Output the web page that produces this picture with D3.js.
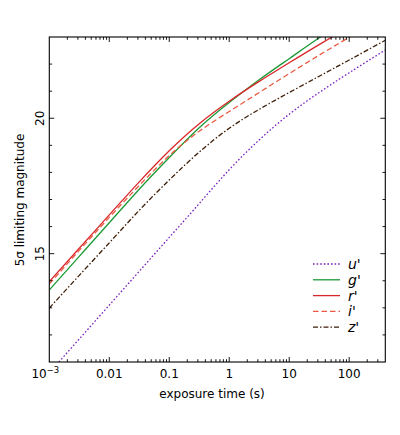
<!DOCTYPE html>
<html>
<head>
<meta charset="utf-8">
<script src="https://cdn.jsdelivr.net/npm/d3@7"></script>
<style>
  html, body { margin: 0; padding: 0; background: #fff; }
  svg { display: block; font-family: "DejaVu Sans", sans-serif; }
</style>
</head>
<body>
<svg id="chart" width="400" height="435"></svg>
<script>
// ---- data ----
const times = [0.001, 0.00316, 0.01, 0.0316, 0.1, 0.316, 1, 3.16, 10, 31.6, 100, 400];
const uMag = [10.6, 11.85, 13.1, 14.35, 15.6, 16.85, 18.1, 19.2, 20.15, 20.95, 21.68, 22.52];
const gMag = [13.66, 14.9, 16.14, 17.38, 18.55, 19.65, 20.58, 21.42, 22.2, 22.97, 23.7, 24.55];
const rMag = [13.97, 15.2, 16.43, 17.65, 18.8, 19.8, 20.63, 21.36, 22.05, 22.72, 23.36, 24.1];
const iMag = [13.88, 15.12, 16.34, 17.52, 18.62, 19.52, 20.25, 20.95, 21.65, 22.33, 22.99, 23.78];
const zMag = [12.99, 14.2, 15.4, 16.6, 17.72, 18.75, 19.63, 20.33, 20.95, 21.55, 22.15, 22.88];

const seriesNames = ["u'", "g'", "r'", "i'", "z'"];
const seriesValues = [uMag, gMag, rMag, iMag, zMag];
const seriesColors = ["#7a22c0", "#1c9a36", "#d9262a", "#e85a40", "#3e1e08"];
const seriesDash = ["1.6,2", null, null, "5.5,3", "5,2,1.5,2"];

const xTickValues = [0.001, 0.01, 0.1, 1, 10, 100];
const xTickLabels = ["10", "0.01", "0.1", "1", "10", "100"];
const xTickSup = ["−3", "", "", "", "", ""];
const yTickValues = [15, 20];
const yTickLabels = ["15", "20"];

// ---- layout ----
const svg = d3.select("#chart");
const L = 49.3, R = 385.3, T = 37, B = 362;

const x = d3.scaleLog().domain([0.001, 400]).range([L, R]);
const y = d3.scaleLinear().domain([11, 23]).range([B, T]);

svg.append("defs").append("clipPath").attr("id", "clip")
  .append("rect").attr("x", L).attr("y", T).attr("width", R - L).attr("height", B - T);

// ---- curves ----
const line = d3.line()
  .x(d => x(d[0]))
  .y(d => y(d[1]))
  .curve(d3.curveNatural);

const g = svg.append("g").attr("clip-path", "url(#clip)");
seriesValues.forEach((vals, i) => {
  const pts = times.map((t, k) => [t, vals[k]]);
  const p = g.append("path")
    .attr("d", line(pts))
    .attr("fill", "none")
    .attr("stroke", seriesColors[i])
    .attr("stroke-width", 1.3);
  if (seriesDash[i]) p.attr("stroke-dasharray", seriesDash[i]);
});

// ---- ticks (inward, all four sides) ----
const xMinor = [];
for (let d = -3; d <= 2; d++) {
  for (let k = 1; k <= 9; k++) {
    const v = k * Math.pow(10, d);
    if (v > 0.001 * 1.0001 && v < 400) xMinor.push({ v, major: k === 1 });
  }
}
const tickG = svg.append("g").attr("stroke", "#000").attr("stroke-width", 0.9);
xMinor.forEach(t => {
  const len = t.major ? 5 : 2.8;
  const px = x(t.v);
  tickG.append("line").attr("x1", px).attr("x2", px).attr("y1", B).attr("y2", B - len);
  tickG.append("line").attr("x1", px).attr("x2", px).attr("y1", T).attr("y2", T + len);
});
d3.range(12, 23).forEach(v => {
  const len = (v % 5 === 0) ? 5 : 2.8;
  const py = y(v);
  tickG.append("line").attr("x1", L).attr("x2", L + len).attr("y1", py).attr("y2", py);
  tickG.append("line").attr("x1", R).attr("x2", R - len).attr("y1", py).attr("y2", py);
});

// frame
svg.append("rect").attr("x", L).attr("y", T).attr("width", R - L).attr("height", B - T)
  .attr("fill", "none").attr("stroke", "#000").attr("stroke-width", 1.1);

// ---- tick labels ----
xTickValues.forEach((v, i) => {
  const t = svg.append("text")
    .attr("x", x(v) + (xTickSup[i] ? -4 : 0))
    .attr("y", 378)
    .attr("text-anchor", "middle")
    .attr("font-size", 12)
    .attr("fill", "#000")
    .text(xTickLabels[i]);
  if (xTickSup[i]) {
    t.append("tspan").attr("dy", -5).attr("font-size", 8.5).text(xTickSup[i]);
  }
});
yTickValues.forEach((v, i) => {
  svg.append("text")
    .attr("transform", `translate(43.5,${y(v)}) rotate(-90)`)
    .attr("text-anchor", "middle")
    .attr("font-size", 12)
    .attr("fill", "#000")
    .text(yTickLabels[i]);
});

// ---- axis titles ----
svg.append("text")
  .attr("x", 212).attr("y", 398)
  .attr("text-anchor", "middle")
  .attr("font-size", 12)
  .text("exposure time (s)");
svg.append("text")
  .attr("transform", "translate(24,200) rotate(-90)")
  .attr("text-anchor", "middle")
  .attr("font-size", 12)
  .text("5σ limiting magnitude");

// ---- legend ----
const lg = svg.append("g");
seriesNames.forEach((name, i) => {
  const yy = 264 + i * 15.8;
  const l = lg.append("line")
    .attr("x1", 313).attr("x2", 340).attr("y1", yy).attr("y2", yy)
    .attr("stroke", seriesColors[i]).attr("stroke-width", 1.3);
  if (seriesDash[i]) l.attr("stroke-dasharray", seriesDash[i]);
  lg.append("text")
    .attr("x", 348).attr("y", yy + 5)
    .attr("font-size", 14)
    .attr("font-style", "italic")
    .text(name);
});
</script>
</body>
</html>
